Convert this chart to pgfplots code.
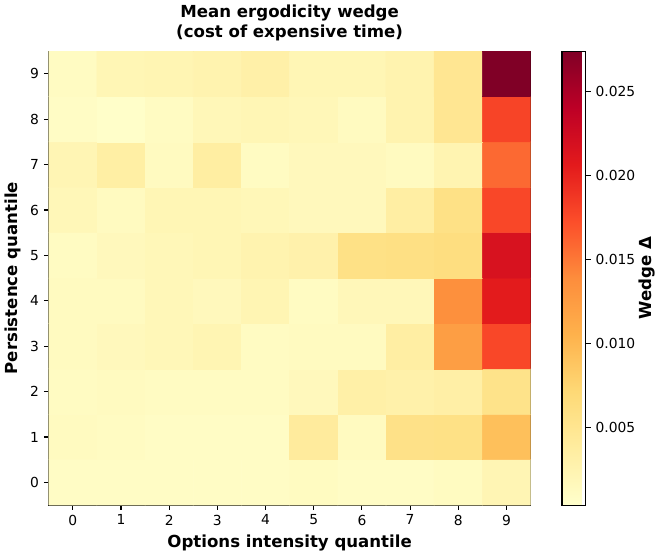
\documentclass[border=0pt]{standalone}
\usepackage{pgfplots}
\pgfplotsset{compat=1.18}
\usepackage{pgfplotstable}
\usepackage{fontspec}
\setmainfont{DejaVu Sans}
\pgfplotstableread{
x y c
0 0 0.0009
1 0 0.0009
2 0 0.0009
3 0 0.0009
4 0 0.0009
5 0 0.0012
6 0 0.0009
7 0 0.0009
8 0 0.0012
9 0 0.0022
0 1 0.0013
1 1 0.0011
2 1 0.0009
3 1 0.0009
4 1 0.0009
5 1 0.0040
6 1 0.0013
7 1 0.0057
8 1 0.0058
9 1 0.0093
0 2 0.0011
1 2 0.0013
2 2 0.0011
3 2 0.0011
4 2 0.0011
5 2 0.0016
6 2 0.0032
7 2 0.0030
8 2 0.0033
9 2 0.0055
0 3 0.0013
1 3 0.0016
2 3 0.0019
3 3 0.0023
4 3 0.0011
5 3 0.0013
6 3 0.0013
7 3 0.0035
8 3 0.0123
9 3 0.0177
0 4 0.0013
1 4 0.0013
2 4 0.0019
3 4 0.0016
4 4 0.0023
5 4 0.0011
6 4 0.0018
7 4 0.0018
8 4 0.0136
9 4 0.0206
0 5 0.0011
1 5 0.0016
2 5 0.0019
3 5 0.0021
4 5 0.0026
5 5 0.0029
6 5 0.0058
7 5 0.0060
8 5 0.0063
9 5 0.0217
0 6 0.0019
1 6 0.0013
2 6 0.0021
3 6 0.0021
4 6 0.0019
5 6 0.0016
6 6 0.0016
7 6 0.0035
8 6 0.0058
9 6 0.0177
0 7 0.0022
1 7 0.0034
2 7 0.0013
3 7 0.0036
4 7 0.0011
5 7 0.0016
6 7 0.0016
7 7 0.0013
8 7 0.0024
9 7 0.0158
0 8 0.0009
1 8 0.0006
2 8 0.0011
3 8 0.0019
4 8 0.0021
5 8 0.0019
6 8 0.0013
7 8 0.0026
8 8 0.0049
9 8 0.0179
0 9 0.0011
1 9 0.0021
2 9 0.0023
3 9 0.0026
4 9 0.0031
5 9 0.0021
6 9 0.0021
7 9 0.0026
8 9 0.0049
9 9 0.0274
}\heat
\begin{document}
\begin{tikzpicture}
\begin{axis}[
  scale only axis,
  width=348.5pt, height=328.3pt,
  xmin=-0.5, xmax=9.5, ymin=-0.5, ymax=9.5,
  xtick={0,...,9}, ytick={0,...,9},
  tick align=outside, tick pos=left,
  major tick length=3.5pt,
  every tick/.style={black, line width=0.8pt},
  axis line style={line width=0.8pt},
  /pgf/number format/assume math mode=true,
  tick label style={font=\fontsize{10}{12}\selectfont},
  xlabel={\bfseries Options intensity quantile},
  ylabel={\bfseries Persistence quantile},
  label style={font=\fontsize{12}{14}\selectfont},
  title={\bfseries Mean ergodicity wedge\\\bfseries (cost of expensive time)},
  title style={align=center, font=\fontsize{12}{14.5}\selectfont, yshift=-2pt},
  colormap={ylorrd}{rgb255=(255,255,204) rgb255=(255,237,160) rgb255=(254,217,118) rgb255=(254,178,76) rgb255=(253,141,60) rgb255=(252,78,42) rgb255=(227,26,28) rgb255=(189,0,38) rgb255=(128,0,38)},
  point meta min=0.00036, point meta max=0.0274,
  colorbar,
  colorbar style={
    at={(parent axis.north east)}, anchor=north west, xshift=14.2pt,
    width=17.3pt,
    ytick={0.005,0.010,0.015,0.020,0.025},
    scaled y ticks=false,
    ytick pos=right,
    yticklabel={\pgfmathprintnumber[fixed,fixed zerofill,precision=3,assume math mode=true]{\tick}},
    yticklabel style={font=\fontsize{10}{12}\selectfont},
    tick align=outside,
    major tick length=3.5pt,
    every tick/.style={black, line width=0.8pt},
    axis line style={line width=0.8pt},
    ylabel={\bfseries Wedge Δ},
    ylabel shift=-4pt,
    ylabel style={font=\fontsize{12}{14}\selectfont},
  },
]
\addplot[matrix plot*, mesh/cols=10, point meta=explicit] table[x=x, y=y, meta=c] {\heat};
\end{axis}
\end{tikzpicture}
\end{document}
